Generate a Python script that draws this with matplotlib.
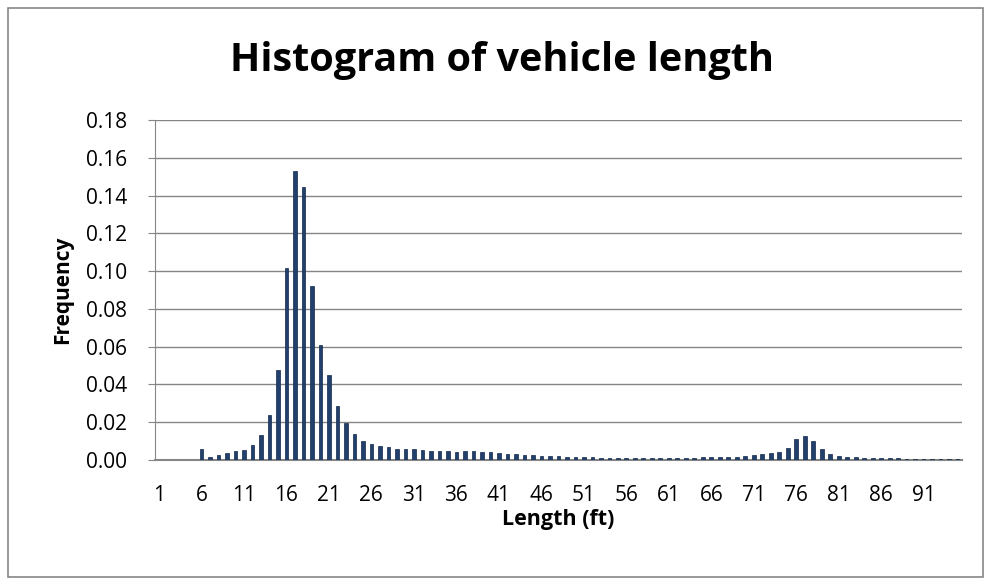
import matplotlib
matplotlib.use("Agg")
import matplotlib.pyplot as plt
from matplotlib.patches import Rectangle

# vehicle length categories (ft) and relative frequency
lengths = list(range(1, 96))
freq = [0, 0, 0, 0, 0,
        0.0058, 0.0016, 0.0026, 0.0037, 0.0048,
        0.0053, 0.0079, 0.0132, 0.0238, 0.0476,
        0.1017, 0.1528, 0.1443, 0.0920, 0.0608,
        0.0449, 0.0285, 0.0196, 0.0137, 0.0100,
        0.0085, 0.0074, 0.0068, 0.0058, 0.0058,
        0.0058, 0.0053, 0.0047, 0.0047, 0.0047,
        0.0042, 0.0047, 0.0047, 0.0042, 0.0042,
        0.0037, 0.0032, 0.0032, 0.0026, 0.0026,
        0.0021, 0.0021, 0.0021, 0.0016, 0.0016,
        0.0016, 0.0016, 0.0011, 0.0011, 0.0011,
        0.0011, 0.0011, 0.0011, 0.0011, 0.0011,
        0.0011, 0.0011, 0.0011, 0.0011, 0.0016,
        0.0016, 0.0016, 0.0016, 0.0016, 0.0021,
        0.0026, 0.0032, 0.0037, 0.0042, 0.0063,
        0.0111, 0.0126, 0.0100, 0.0058, 0.0032,
        0.0021, 0.0016, 0.0016, 0.0011, 0.0011,
        0.0011, 0.0011, 0.0009, 0.0005, 0.0005,
        0.0005, 0.0005, 0.0005, 0.0005, 0.0005]
y_ticks = [0.00, 0.02, 0.04, 0.06, 0.08, 0.10, 0.12, 0.14, 0.16, 0.18]

plt.rcParams['font.family'] = ['Open Sans', 'DejaVu Sans']

fig = plt.figure(figsize=(9.85, 5.79), dpi=100)
ax = fig.add_axes([0.157, 0.2055, 0.8196, 0.5872])

pos = list(range(len(lengths)))
ax.bar(pos, freq, width=0.42, color="#21406C", edgecolor="#12264A", linewidth=0.5, zorder=3)

ax.set_xlim(-0.5, len(lengths) - 0.5)
ax.set_ylim(0, 0.18)
ax.set_yticks(y_ticks)
ax.set_yticklabels(["{:.2f}".format(v) for v in y_ticks], fontsize=15)
ax.set_xticks(pos[::5])
ax.set_xticklabels([str(v) for v in lengths[::5]], fontsize=15)
ax.tick_params(axis="x", length=0, pad=18)
ax.tick_params(axis="y", length=5, color="#868686", pad=15)

ax.grid(axis="y", color="#868686", linewidth=1, zorder=0)
for s in ["top", "right"]:
    ax.spines[s].set_visible(False)
ax.spines["left"].set_color("#868686")
ax.spines["bottom"].set_color("#868686")
ax.spines["bottom"].set_linewidth(1.5)

ax.set_xlabel("Length (ft)", fontsize=15.5, fontweight="bold", labelpad=2)
ax.set_ylabel("Frequency", fontsize=15, fontweight="bold", labelpad=9)

fig.text(0.51, 0.895, "Histogram of vehicle length", ha="center", va="center",
         fontsize=28.5, fontweight="bold")

fig.patches.append(Rectangle((8 / 985, 2 / 579), 975 / 985, 569 / 579,
                             transform=fig.transFigure, fill=False,
                             edgecolor="#868686", linewidth=1.2))

fig.savefig("out.png", dpi=100)
